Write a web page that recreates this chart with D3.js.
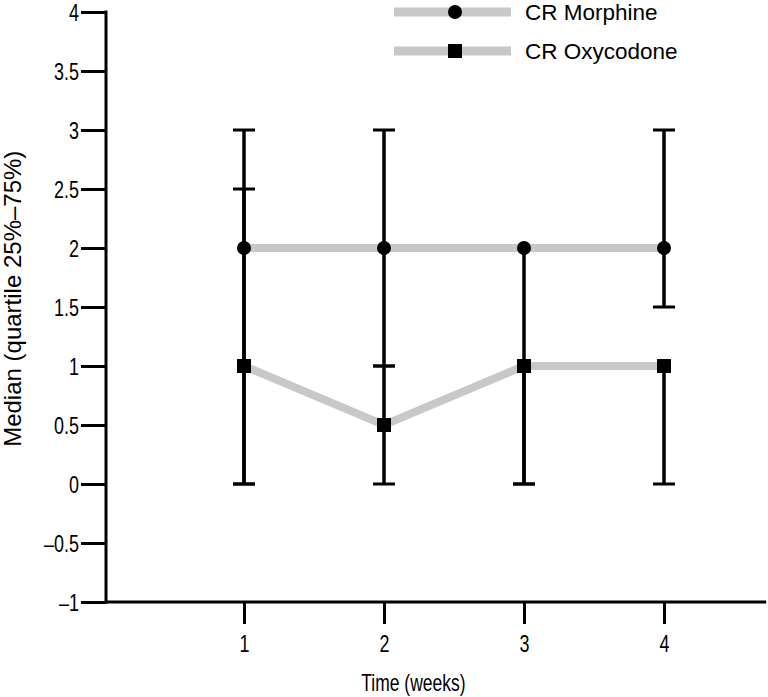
<!DOCTYPE html>
<html>
<head>
<meta charset="utf-8">
<script src="https://cdnjs.cloudflare.com/ajax/libs/d3/7.8.5/d3.min.js"></script>
<style>
  html, body { margin: 0; padding: 0; background: #fff; }
  svg { display: block; font-family: "Liberation Sans", Arial, sans-serif; }
</style>
</head>
<body>
<svg id="chart" width="768" height="697"></svg>
<script>
// ---- data ----
const weeks = [1, 2, 3, 4];
const seriesNames = ["CR Morphine", "CR Oxycodone"];
const morphineMedian = [2, 2, 2, 2];
const morphineQ25 = [0, 1, 0, 1.5];
const morphineQ75 = [3, 3, 2, 3];
const oxycodoneMedian = [1, 0.5, 1, 1];
const oxycodoneQ25 = [0, 0, 0, 0];
const oxycodoneQ75 = [2.5, 1, 1, 1];
const yTicks = [-1, -0.5, 0, 0.5, 1, 1.5, 2, 2.5, 3, 3.5, 4];
const xTicks = [1, 2, 3, 4];

const series = [
  { name: seriesNames[0], marker: "circle", med: morphineMedian, lo: morphineQ25, hi: morphineQ75 },
  { name: seriesNames[1], marker: "square", med: oxycodoneMedian, lo: oxycodoneQ25, hi: oxycodoneQ75 }
];

const svg = d3.select("#chart");
const x = d3.scaleLinear().domain([0, 4.73]).range([104, 766.2]);
const y = d3.scaleLinear().domain([-1, 4]).range([602, 12]);
const axisX0 = 106;
const fmt = v => (v < 0 ? "\u2013" + Math.abs(v) : String(v));
const squeeze = 0.78;

// y axis
const yAxis = svg.append("g").attr("transform", `translate(${axisX0},0)`)
  .call(d3.axisLeft(y).tickValues(yTicks).tickSize(25).tickPadding(1.5).tickFormat(fmt));
yAxis.select(".domain").remove();
yAxis.selectAll(".tick line").attr("stroke", "#000").attr("stroke-width", 3);
yAxis.selectAll(".tick text").attr("font-size", 23).attr("fill", "#000")
  .attr("font-family", "'Liberation Sans', Arial, sans-serif")
  .attr("x", -27 / squeeze).attr("dy", "0.36em")
  .attr("transform", `scale(${squeeze},1)`);
svg.append("line").attr("x1", axisX0).attr("x2", axisX0).attr("y1", y(4) - 1.5).attr("y2", y(-1) + 1.5)
  .attr("stroke", "#000").attr("stroke-width", 3);

// x axis
const xAxis = svg.append("g").attr("transform", `translate(0,${y(-1)})`)
  .call(d3.axisBottom(x).tickValues(xTicks).tickSize(22).tickPadding(10).tickFormat(d3.format("d")));
xAxis.select(".domain").remove();
xAxis.selectAll(".tick line").attr("stroke", "#000").attr("stroke-width", 3);
xAxis.selectAll(".tick text").attr("font-size", 23).attr("fill", "#000")
  .attr("font-family", "'Liberation Sans', Arial, sans-serif")
  .attr("y", 50).attr("dy", 0)
  .attr("transform", `scale(${squeeze},1)`);
svg.append("line").attr("x1", axisX0).attr("x2", x(4.73)).attr("y1", y(-1)).attr("y2", y(-1))
  .attr("stroke", "#000").attr("stroke-width", 3);

// axis titles
svg.append("text").attr("transform", `translate(${x(2.21)},691) scale(0.76,1)`)
  .attr("text-anchor", "middle").attr("font-size", 23).text("Time (weeks)");
svg.append("text").attr("transform", `translate(21,${y(1.57)}) rotate(-90)`)
  .attr("text-anchor", "middle").attr("font-size", 24).text("Median (quartile 25%\u201375%)");

// gray connecting lines
const line = d3.line().x((d, i) => x(weeks[i])).y(d => y(d));
series.forEach(s => {
  svg.append("path").attr("d", line(s.med)).attr("fill", "none")
    .attr("stroke", "#c8c8c8").attr("stroke-width", 8);
});

// error bars
const capHalf = 11;
series.forEach(s => {
  weeks.forEach((w, i) => {
    const cx = x(w);
    svg.append("line").attr("x1", cx).attr("x2", cx).attr("y1", y(s.lo[i])).attr("y2", y(s.hi[i]))
      .attr("stroke", "#000").attr("stroke-width", 3.5);
    [s.lo[i], s.hi[i]].forEach(v => {
      if (v !== s.med[i]) {
        svg.append("line").attr("x1", cx - capHalf).attr("x2", cx + capHalf)
          .attr("y1", y(v)).attr("y2", y(v)).attr("stroke", "#000").attr("stroke-width", 3);
      }
    });
  });
});

// markers
function drawMarker(g, type, cx, cy) {
  if (type === "circle") {
    g.append("circle").attr("cx", cx).attr("cy", cy).attr("r", 7).attr("fill", "#000");
  } else {
    g.append("rect").attr("x", cx - 7).attr("y", cy - 7).attr("width", 14).attr("height", 14).attr("fill", "#000");
  }
}
series.forEach(s => {
  weeks.forEach((w, i) => drawMarker(svg, s.marker, x(w), y(s.med[i])));
});

// legend
const legendY = [12, 51];
series.forEach((s, k) => {
  const ly = legendY[k];
  svg.append("line").attr("x1", 394).attr("x2", 511).attr("y1", ly).attr("y2", ly)
    .attr("stroke", "#c8c8c8").attr("stroke-width", 9);
  drawMarker(svg, s.marker, 455, ly);
  svg.append("text").attr("x", 525).attr("y", ly + 8).attr("font-size", 22.5).text(s.name);
});
</script>
</body>
</html>
